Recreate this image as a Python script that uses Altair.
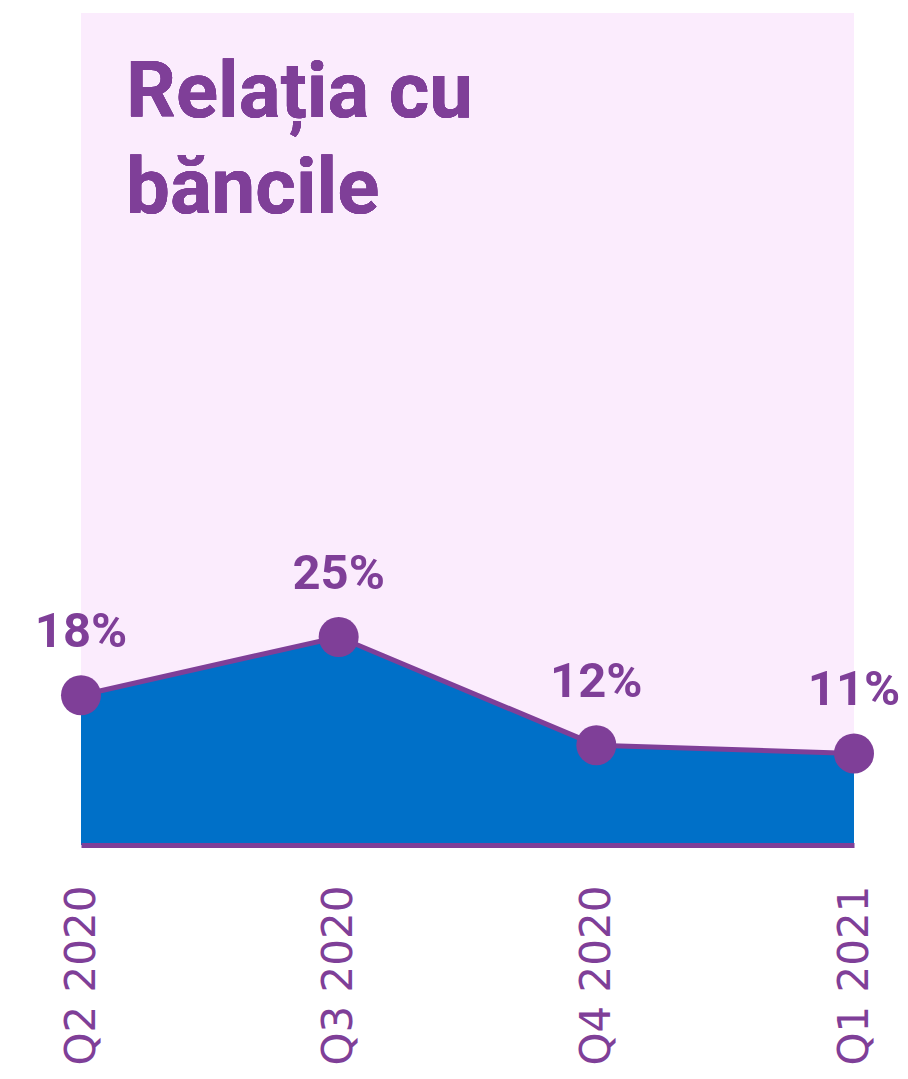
import altair as alt
import pandas as pd

quarters = ["Q2 2020", "Q3 2020", "Q4 2020", "Q1 2021"]
values = [18, 25, 12, 11]
labels = ["18%", "25%", "12%", "11%"]
title_lines = ["Relația cu", "băncile"]

df = pd.DataFrame({"quarter": quarters, "value": values, "label": labels})

PURPLE = "#7F3F98"
BLUE = "#0070C8"
PINK = "#FBECFD"

x = alt.X(
    "quarter:N",
    sort=quarters,
    scale=alt.Scale(type="point", padding=0),
    axis=alt.Axis(
        title=None,
        labelAngle=-90,
        labelAlign="right",
        labelBaseline="middle",
        labelFontSize=42,
        labelFont="DejaVu Sans",
        labelColor=PURPLE,
        labelPadding=40,
        labelLimit=400,
        ticks=False,
        domainColor=PURPLE,
        domainWidth=5,
        grid=False,
        zindex=1,
    ),
)
y = alt.Y("value:Q", scale=alt.Scale(domain=[0, 100]), axis=None)

base = alt.Chart(df).encode(x=x, y=y)
area = base.mark_area(color=BLUE, opacity=1)
line = base.mark_line(color=PURPLE, strokeWidth=5)
pts = base.mark_circle(color=PURPLE, size=1600, opacity=1)
txt = base.mark_text(
    dy=-48, baseline="alphabetic", fontSize=49, fontWeight="bold",
    font="Roboto", color=PURPLE
).encode(text="label:N")

title = alt.Chart(df).mark_text(
    align="left", baseline="alphabetic", fontSize=78, lineHeight=96,
    font="Roboto", fontWeight="bold", color=PURPLE
).encode(
    x=alt.value(45), y=alt.value(104), text=alt.value(title_lines)
)

chart = alt.layer(area, line, pts, txt, title).properties(
    width=773,
    height=832,
    autosize=alt.AutoSizeParams(type="none"),
    padding={"left": 73, "top": 5, "right": 46, "bottom": 226},
).configure_view(fill=PINK, strokeWidth=0)

chart.save("out.html", embed_options={"renderer": "svg", "actions": False})
